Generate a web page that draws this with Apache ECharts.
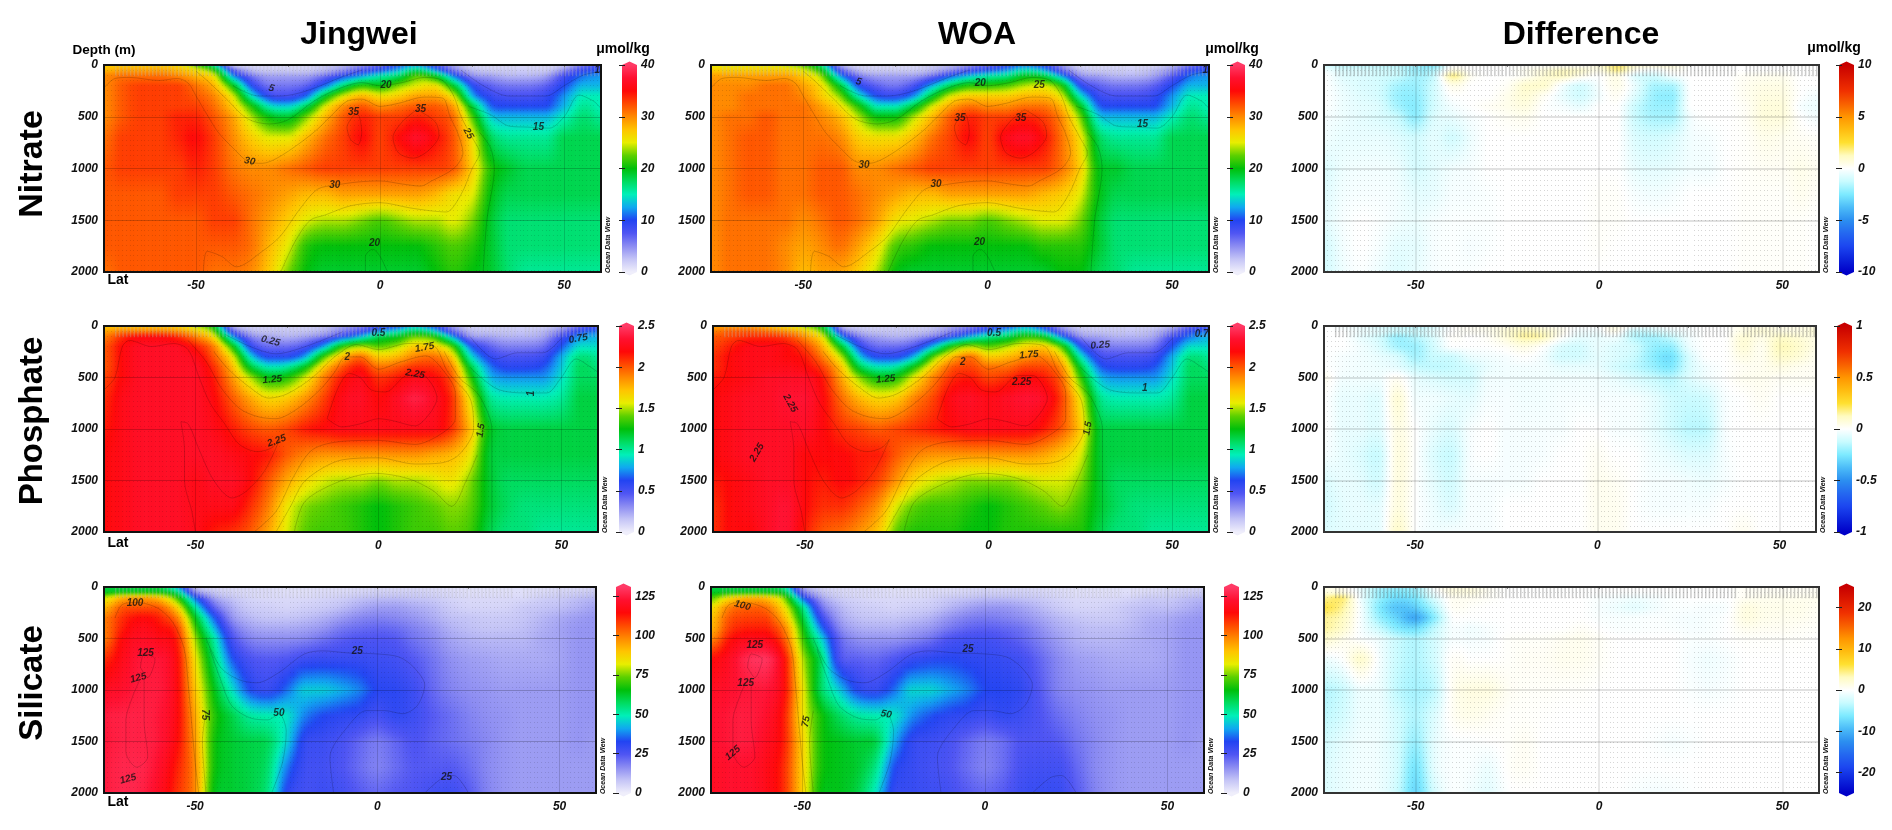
<!DOCTYPE html>
<html><head><meta charset="utf-8"><title>Nutrient sections</title>
<script src="https://cdn.jsdelivr.net/npm/echarts@6/dist/echarts.min.js"></script>
<style>html,body{margin:0;padding:0;background:#fff}#heat,#main{position:absolute;left:0;top:0;width:1892px;height:830px}</style>
</head><body><div id="heat"></div><div id="main"></div>
<script>
const latitudes=[-75,-70,-65,-60,-55,-50,-45,-40,-35,-30,-25,-20,-15,-10,-5,0,5,10,15,20,25,30,35,40,45,50,55,60];
const depths=[0,50,100,200,300,400,500,700,1000,1250,1500,1750,2000];
const nitrateJingwei=[
[27,27,27,27,26,22,15,2,1,1,1,1,2,3,5,7,10,12,8,4,1,1,1,1,1,2,6,8],
[28,29,29,29,28,26,21,8,3,2,2,2,3,5,8,10,13,17,12,6,3,2,2,2,2,5,9,10],
[30,31,31,31,30,28,25,12,6,4,4,4,6,9,12,15,17,22,19,11,5,4,3,3,4,8,11,12],
[30,32,33,33,33,31,28,20,10,6,6,7,11,17,21,20,23,25,26,19,10,7,6,6,7,10,13,13],
[30,32,33,33,33,32,30,25,15,9,8,11,19,25,28,26,27,29,29,25,13,9,8,8,9,12,15,15],
[30,32,33,33,33,33,31,27,21,15,14,18,25,30,32,30,31,32,32,29,19,11,10,10,10,13,16,15],
[30,32,33,33,34,34,32,29,24,20,19,23,28,32,34,33,33,34,33,31,22,14,13,13,13,15,17,16],
[31,33,33,33,34,35,33,30,27,25,25,28,31,33,35,33,35,37,35,32,26,18,16,16,16,18,18,18],
[32,33,33,33,33,34,33,31,30,30,31,32,33,33,33,33,33,33,33,32,27,21,19,18,18,18,18,18],
[32,32,32,32,33,33,33,32,31,30,29,28,28,29,29,29,29,29,28,26,25,20,18,18,18,18,18,18],
[32,32,32,32,32,32,33,33,31,29,27,25,24,24,23,22,23,24,24,25,23,19,17,17,17,17,17,17],
[32,32,32,32,32,32,32,32,31,28,25,21,20,20,20,20,20,20,21,22,21,19,17,17,17,17,17,17],
[31,32,32,32,32,32,31,31,30,27,23,20,19,19,19,19,19,19,20,21,20,19,17,16,16,16,16,16]];
const nitrateWOA=[
[25,25,25,25,24,22,16,4,1,1,1,1,2,3,5,7,9,11,9,5,1,1,1,1,1,3,6,8],
[27,27,27,27,27,25,20,8,3,2,2,2,3,5,8,10,12,15,13,7,3,2,2,2,3,5,9,10],
[29,29,29,29,29,27,23,12,6,4,4,4,6,10,13,15,16,19,18,12,5,4,3,3,4,7,11,12],
[30,30,30,31,31,29,26,19,10,7,6,8,13,18,21,21,22,24,25,21,10,7,6,6,7,10,13,13],
[30,30,31,31,31,30,27,23,15,10,9,12,19,25,27,27,27,28,28,25,15,9,8,8,9,12,15,15],
[30,30,31,31,31,31,29,26,21,15,15,19,25,29,31,30,30,31,31,28,20,11,10,10,10,13,16,15],
[30,31,31,32,31,31,30,28,24,20,20,24,28,32,34,33,33,34,33,30,23,14,13,13,13,15,17,16],
[30,31,32,32,31,31,31,30,27,26,26,28,31,33,35,33,36,37,35,31,26,18,16,16,16,18,18,18],
[30,31,32,32,31,31,32,32,30,30,31,32,33,33,33,33,33,33,33,31,27,20,19,18,18,18,18,18],
[30,31,32,32,31,31,32,32,31,30,29,28,28,29,29,29,29,29,28,27,25,20,18,18,18,18,18,18],
[30,31,31,31,31,30,31,32,31,29,26,25,24,23,23,22,23,24,25,25,23,19,17,17,17,17,17,17],
[30,31,31,31,30,29,30,31,29,26,22,21,20,20,20,20,20,20,21,21,21,19,17,17,17,17,17,17],
[30,31,31,31,30,28,29,29,27,24,20,19,19,19,19,19,19,19,19,20,20,18,17,16,16,16,16,16]];
const nitrateDiff=[
[-1,-1.5,-1.5,-1.5,-1.5,-2,-2.5,0,0,0,0,0,0,0,0,.8,2,1,.8,.8,0,0,0,0,0,0,0,0],
[-.3,-.8,-.8,-1,-1.2,-2,-1.5,.5,0,0,0,.3,.7,1.2,1,.5,1.8,.3,-.2,.2,0,0,0,0,0,0,0,0],
[0,-.7,-.8,-1,-1.2,-1.8,-1.2,1.8,.3,0,0,.2,.8,1.2,.5,0,.5,-.8,-1,-.2,0,0,0,.2,.3,.3,0,0],
[0,-.5,-.8,-1,-1.8,-2,-1,.4,0,0,.2,1,1,-.3,-1,-.2,.4,-.5,-1.8,-1.8,0,0,0,.3,.5,.5,0,0],
[0,-.4,-.7,-1,-2,-2.2,-1,0,0,0,.4,.8,.2,-.5,-1,-.3,.2,-.8,-2,-2.2,0,0,0,.3,.6,.6,0,-.3],
[0,-.4,-.6,-.8,-1.8,-2.3,-1,-.3,0,.2,.4,.6,0,-.2,-.5,0,0,-1.2,-2,-2,0,0,0,.2,.7,.7,-.2,-.4],
[-.2,-.4,-.6,-.8,-1.2,-2.2,-.8,-.5,-.2,0,.2,.3,0,0,0,0,0,-1.2,-1.8,-1.8,-.3,0,0,.2,.7,.7,0,-.3],
[-.3,-.5,-.5,-.5,-.7,-1,-.6,-1,-.4,0,0,0,0,0,0,0,0,-.8,-1,-.8,-.3,-.2,0,.1,.4,.3,.2,.1],
[-.8,-.4,-.3,-.3,-.4,-.9,-.6,-.3,-.2,0,0,0,0,0,0,0,0,-.5,-.6,-.5,-.3,-.3,0,.1,.2,.2,.4,.2],
[-.7,-.3,-.2,-.2,-.3,-.6,-.5,-.2,-.2,-.1,0,0,0,0,0,.1,.1,-.2,-.3,-.2,0,0,0,.1,.1,.1,.3,.1],
[-.6,-.2,0,-.1,-.3,-.4,-.2,-.1,-.1,-.1,0,0,0,0,0,.1,.1,0,0,0,0,0,0,.1,.1,.1,.1,0],
[-1,-.3,0,-.2,-.6,-.6,-.2,-.1,-.2,-.1,0,0,0,0,0,.1,0,0,0,0,0,0,0,.1,.1,.1,.1,0],
[-1,-.4,-.1,-.4,-.7,-.5,-.2,-.1,-.1,0,0,0,0,0,0,0,0,0,0,0,0,0,0,.1,.1,.1,.1,0]];
const phosphateJingwei=[
[1.7,1.7,1.7,1.7,1.65,1.5,1.2,.25,.1,.1,.1,.1,.15,.25,.35,.5,.6,.8,.6,.3,.1,.1,.1,.1,.1,.2,.4,.5],
[1.8,1.9,1.9,1.9,1.85,1.7,1.4,.5,.2,.15,.15,.15,.2,.35,.5,.75,.9,1.1,.9,.45,.2,.15,.15,.15,.2,.35,.6,.7],
[1.9,2.1,2.2,2.2,2.1,1.9,1.6,.8,.35,.25,.2,.25,.35,.55,.8,1.1,1.2,1.4,1.3,.8,.3,.25,.2,.2,.25,.5,.75,.8],
[2,2.2,2.3,2.3,2.3,2.15,1.9,1.3,.6,.4,.4,.5,.8,1.3,1.5,1.4,1.5,1.7,1.7,1.4,.7,.45,.35,.35,.4,.65,.9,.9],
[2,2.2,2.3,2.3,2.3,2.25,2,1.6,.9,.6,.6,.8,1.35,1.75,1.95,1.7,1.75,1.9,1.95,1.7,.95,.6,.5,.5,.55,.8,1.05,1],
[2,2.2,2.3,2.3,2.3,2.3,2.1,1.75,1.2,.95,1,1.25,1.7,2,2.15,1.95,2,2.1,2.1,1.9,1.2,.75,.6,.6,.65,.85,1.1,1.05],
[2.05,2.2,2.3,2.3,2.3,2.3,2.15,1.85,1.5,1.25,1.3,1.55,1.9,2.15,2.25,2.1,2.15,2.25,2.2,2,1.35,.85,.75,.75,.75,.9,1.1,1.1],
[2.1,2.25,2.3,2.3,2.3,2.3,2.2,2,1.8,1.65,1.7,1.85,2.05,2.25,2.3,2.2,2.3,2.4,2.3,2.1,1.6,1.05,.95,.95,.95,1,1.15,1.15],
[2.15,2.25,2.3,2.3,2.3,2.3,2.25,2.15,2.05,2,2.05,2.15,2.2,2.25,2.25,2.25,2.25,2.25,2.25,2.1,1.75,1.25,1.15,1.15,1.15,1.15,1.15,1.15],
[2.2,2.25,2.3,2.3,2.3,2.3,2.3,2.25,2.2,2.15,2,1.9,1.85,1.85,1.85,1.85,1.85,1.85,1.8,1.75,1.6,1.2,1.15,1.15,1.15,1.15,1.15,1.15],
[2.2,2.25,2.3,2.3,2.3,2.25,2.3,2.3,2.2,2,1.8,1.65,1.55,1.5,1.5,1.45,1.5,1.5,1.55,1.6,1.45,1.2,1.1,1.1,1.1,1.1,1.1,1.1],
[2.2,2.25,2.3,2.3,2.3,2.25,2.25,2.25,2.1,1.9,1.6,1.45,1.4,1.35,1.3,1.25,1.3,1.35,1.4,1.45,1.4,1.2,1.1,1.05,1.05,1.05,1.05,1.05],
[2.2,2.25,2.3,2.3,2.3,2.25,2.15,2.1,2,1.8,1.55,1.4,1.35,1.35,1.3,1.25,1.3,1.35,1.35,1.4,1.35,1.15,1.05,1.05,1,1,1,1]];
const phosphateWOA=[
[1.8,1.8,1.8,1.7,1.6,1.45,1.15,.2,.1,.1,.1,.1,.15,.25,.35,.5,.6,.75,.55,.25,.1,.1,.1,.1,.1,.2,.4,.5],
[1.9,2,2,1.95,1.85,1.7,1.35,.45,.2,.15,.15,.15,.2,.35,.5,.7,.85,1,.8,.4,.2,.15,.15,.15,.2,.35,.6,.7],
[2,2.05,2.1,2.1,2.05,1.85,1.55,.75,.35,.25,.2,.25,.35,.55,.8,1,1.1,1.3,1.2,.7,.3,.25,.2,.2,.25,.5,.7,.8],
[2.05,2.15,2.25,2.25,2.2,2.05,1.75,1.2,.6,.4,.4,.5,.85,1.3,1.5,1.4,1.5,1.65,1.7,1.35,.65,.4,.35,.35,.4,.65,.9,.9],
[2.1,2.2,2.25,2.25,2.2,2.15,1.9,1.5,.85,.6,.6,.85,1.4,1.75,1.95,1.7,1.75,1.85,1.9,1.65,.95,.55,.5,.5,.55,.8,1.05,1],
[2.1,2.2,2.25,2.25,2.25,2.2,2.05,1.7,1.15,.95,1,1.3,1.7,2,2.05,1.95,1.95,2.05,2.05,1.85,1.2,.7,.6,.6,.65,.85,1.1,1.05],
[2.15,2.2,2.25,2.3,2.3,2.3,2.15,1.8,1.45,1.25,1.3,1.6,1.9,2.1,2.15,2.05,2.1,2.2,2.15,1.95,1.35,.85,.75,.75,.75,.9,1.1,1.1],
[2.2,2.25,2.3,2.3,2.35,2.35,2.2,1.95,1.75,1.65,1.7,1.9,2.05,2.25,2.3,2.25,2.3,2.35,2.3,2.05,1.6,1.05,.95,.95,.95,1,1.15,1.15],
[2.2,2.25,2.3,2.3,2.3,2.3,2.2,2.1,2.05,2,2.05,2.1,2.15,2.2,2.25,2.25,2.25,2.25,2.15,2,1.7,1.2,1.15,1.15,1.15,1.15,1.15,1.15],
[2.2,2.25,2.3,2.3,2.3,2.2,2.2,2.2,2.15,2.15,2,1.9,1.85,1.85,1.85,1.85,1.85,1.85,1.8,1.7,1.55,1.2,1.15,1.15,1.15,1.15,1.15,1.15],
[2.15,2.2,2.25,2.3,2.3,2.2,2.15,2.2,2.15,2.05,1.85,1.65,1.55,1.5,1.45,1.45,1.45,1.5,1.55,1.55,1.45,1.2,1.1,1.1,1.1,1.1,1.1,1.1],
[2.1,2.2,2.25,2.3,2.35,2.2,2.1,2.1,2,1.85,1.55,1.4,1.35,1.35,1.3,1.25,1.3,1.35,1.4,1.45,1.35,1.2,1.1,1.05,1.05,1.05,1.05,1.05],
[2.1,2.2,2.2,2.3,2.35,2.15,2,1.95,1.85,1.7,1.4,1.3,1.3,1.3,1.25,1.25,1.3,1.3,1.3,1.3,1.3,1.15,1.05,1.05,1,1,1,1]];
const phosphateDiff=[
[0,-.03,-.05,-.1,-.12,-.15,-.1,0,.02,.04,.05,.08,.04,.02,0,0,.05,0,-.03,0,0,0,0,.05,.05,.05,.05,.05],
[0,0,-.03,-.05,-.1,-.1,-.05,0,.02,.03,.08,.13,.1,.04,-.03,-.03,.04,-.12,-.1,-.05,-.02,0,0,.05,.08,.05,.05,.08],
[0,0,-.05,-.1,-.2,-.15,-.08,.01,0,.02,.08,.16,.14,.02,-.05,-.05,-.03,-.15,-.18,-.12,-.03,0,0,.08,.05,.1,.08,.05],
[0,0,-.03,-.08,-.18,-.2,-.1,0,0,0,.02,.05,0,-.08,-.1,-.05,-.08,-.1,-.2,-.22,-.05,0,0,.08,.03,.13,.1,.05],
[0,-.02,-.03,-.05,-.08,-.18,-.12,-.12,-.05,-.03,-.02,0,-.03,-.1,-.1,-.06,-.08,-.12,-.22,-.28,-.1,0,0,.05,.03,.1,.08,.03],
[0,-.02,-.03,-.04,-.06,-.12,-.14,-.13,-.1,-.05,-.03,-.03,-.03,-.05,-.05,-.05,-.1,-.14,-.2,-.25,-.1,-.03,0,.02,.03,.05,.03,.02],
[.03,-.03,-.03,-.03,.02,-.05,-.08,-.1,-.1,-.03,-.03,-.03,-.03,-.03,-.03,-.03,-.05,-.08,-.12,-.15,-.08,-.03,0,.03,.03,.02,.02,.02],
[0,-.05,-.05,-.07,.08,-.03,-.03,-.05,-.06,-.02,-.02,-.03,-.03,-.02,-.02,-.02,-.02,-.02,-.05,-.1,-.12,-.1,-.02,0,.02,0,0,0],
[0,-.05,-.05,-.07,.05,0,-.05,-.08,-.02,0,-.02,-.02,-.02,-.02,0,0,-.02,-.02,-.05,-.1,-.15,-.14,-.02,0,0,0,0,0],
[-.02,-.05,-.08,-.12,.06,0,-.08,-.12,-.02,0,-.02,-.02,-.02,0,0,.02,0,0,-.03,-.05,-.08,-.08,-.02,0,0,0,0,0],
[-.08,-.05,-.06,-.1,.06,0,-.06,-.1,-.02,-.02,-.02,-.02,0,0,0,.03,.02,0,-.02,-.02,-.03,-.04,-.02,0,0,0,0,0],
[-.1,-.06,-.05,-.06,.06,0,-.04,-.08,-.02,-.02,0,0,0,0,0,.03,.03,0,-.02,-.02,-.02,-.02,0,0,0,0,0,0],
[-.08,-.06,-.06,-.06,.1,0,-.03,-.02,-.02,-.02,0,0,0,0,0,.03,.03,0,0,0,0,0,0,.03,0,0,0,0]];
const silicateJingwei=[
[60,60,60,60,42,10,5,4,4,3,3,3,3,3,4,4,4,4,4,3,3,3,3,3,3,4,4,5],
[63,65,65,65,55,18,8,5,4,4,3,3,4,4,5,6,6,6,5,4,3,3,3,3,4,5,6,7],
[80,92,95,90,70,35,14,8,5,4,4,4,5,6,8,9,9,8,7,5,4,4,4,4,6,7,9,10],
[92,105,106,105,88,52,24,12,7,6,5,6,7,9,12,14,14,12,10,7,5,5,5,7,8,9,11,13],
[100,110,115,112,100,65,36,16,10,8,8,9,11,14,17,18,17,15,12,9,8,7,7,8,10,12,14,15],
[100,112,118,115,108,72,44,22,14,12,12,13,15,19,21,22,21,18,15,11,9,8,8,9,11,13,15,15],
[100,115,120,118,112,78,52,27,18,16,16,17,20,23,25,25,24,20,17,13,11,10,10,10,12,13,15,15],
[110,118,124,124,115,85,58,35,26,24,25,28,29,29,29,28,27,24,20,16,14,13,12,12,12,13,15,15],
[120,122,125,125,116,90,66,48,33,29,36,45,45,42,38,32,31,28,22,18,16,15,14,14,14,14,15,15],
[125,126,126,124,116,94,70,60,52,50,48,38,33,31,30,27,30,28,24,21,18,16,15,14,14,14,15,15],
[124,126,126,124,115,96,68,62,60,58,46,30,28,26,22,19,22,25,23,21,19,17,15,14,14,14,15,14],
[125,127,127,122,112,98,68,62,60,56,38,28,27,25,21,18,21,24,24,24,21,17,15,14,14,14,14,14],
[125,127,126,120,110,98,66,62,60,54,32,27,28,27,24,22,24,25,27,28,24,18,15,14,14,14,14,14]];
const silicateWOA=[
[60,60,60,60,52,14,6,4,4,3,3,3,3,3,4,4,4,4,4,3,3,3,3,3,3,4,5,5],
[62,64,64,64,60,22,9,5,4,4,3,3,4,4,5,6,6,6,5,4,3,3,3,3,4,5,6,7],
[72,85,92,90,75,35,14,7,5,4,4,4,5,7,8,9,9,8,7,5,4,4,4,5,7,7,9,10],
[85,100,104,102,85,55,22,11,7,6,5,6,7,10,13,15,15,13,10,7,5,5,6,8,9,9,11,13],
[90,105,108,108,92,62,30,14,9,8,8,9,11,15,18,19,18,16,13,10,8,7,7,9,11,12,14,15],
[92,108,112,112,100,68,38,18,12,11,11,13,15,19,22,23,22,20,16,12,10,9,9,10,12,13,15,15],
[98,113,118,118,105,72,47,23,16,15,15,17,20,25,27,27,25,22,18,14,11,10,10,11,12,13,15,15],
[115,120,128,130,115,80,58,27,23,22,25,29,31,32,31,30,29,27,22,17,14,13,12,12,12,13,15,15],
[120,122,124,124,115,85,58,45,32,29,36,46,46,42,38,33,32,30,24,18,16,15,14,14,14,14,15,15],
[122,124,125,122,112,85,68,58,52,50,48,39,34,31,30,28,30,28,25,21,18,16,15,14,14,14,15,15],
[122,124,125,120,112,88,68,64,62,60,42,30,28,26,22,19,21,25,25,24,20,17,15,14,14,14,15,14],
[120,122,122,118,110,88,68,64,62,54,34,29,27,25,21,18,21,26,27,27,22,17,15,14,14,14,14,14],
[120,122,122,118,110,88,66,64,60,48,30,29,28,27,24,22,24,28,29,29,24,18,15,14,14,14,14,14]];
const silicateDiff=[
[1,1,-1.5,-4,-5,-5,0,1.5,1.5,.5,0,0,0,0,0,0,0,0,0,0,0,0,0,.5,.5,.5,.5,.5],
[1.5,1,-1,-5,-6,-5,-1,1.5,1.5,.5,0,0,0,0,0,0,0,0,0,0,0,0,0,.5,.5,.5,.5,.5],
[4,5,-1,-5,-7,-6,-2,.7,.7,.3,0,0,0,0,0,-.3,-.5,-.8,-.5,-.2,0,0,0,.6,.8,.8,.8,.8],
[6,4,-.5,-6,-9,-8,-4,.5,.2,0,0,0,0,0,0,-.5,-1,-1.5,-.8,-.3,-.3,-.5,-.3,1.5,1,1,1,.5],
[4,3,-.5,-5,-8,-11,-6,-.2,0,0,0,0,0,0,0,-.3,-.4,-.3,-.2,-.4,-.6,-.4,0,1.5,1,.8,.8,.4],
[4,2.5,-.5,-3,-6,-7,-3.5,-.5,-.8,-.4,0,0,0,0,.4,0,-.3,-.3,-.2,-.3,-.5,-.4,0,.8,.6,.6,.4,.2],
[2.5,1,-.2,-1,-3,-4,-2.5,-.5,-.6,-.4,.2,.3,.3,.6,.8,.4,0,0,0,0,-.3,-.3,0,.2,.2,.2,.2,0],
[-1,0,2.5,-.5,-3,-4,-2.5,.4,0,0,.2,.5,.5,.8,.8,.4,0,0,0,0,-.5,-.8,-.5,0,0,0,0,0],
[-4,-3,-1,-1,-3.5,-4.5,-3.5,.6,1.5,1.5,.6,.3,.3,.2,.2,0,0,0,0,0,-.3,-.5,-.3,0,0,0,0,0],
[-3.5,-2.5,-1,-1,-2.5,-4,-2,.5,1,.6,.2,.2,.1,0,0,0,0,0,0,0,0,0,0,0,0,0,0,0],
[-2.5,-1.5,-.8,-1,-2.5,-5,-1.5,-.3,-.2,0,.2,.5,0,0,0,0,0,0,-.2,-.5,-.3,0,0,0,0,0,0,0],
[-2,-1.2,-.8,-1,-2.5,-6.5,-1.5,-.3,-.4,-1,.2,.5,0,0,0,0,0,0,0,0,0,0,0,0,0,0,0,0],
[-2,-1.2,-.8,-1,-3,-7.5,-2.5,-.3,-.8,-1.5,-.2,0,0,0,0,0,0,-.4,-.6,-.5,-.2,0,0,0,0,0,0,0]];

const nitrateContours=[
[[-75,220],[-72,130],[-68,120],[-60,150],[-55,130],[-52,180],[-50,300],[-47,480],[-44,650],[-40,800],[-36,930],[-32,950],[-28,900],[-22,760],[-17,620],[-13,480],[-9,350],[-5,330],[0,400],[5,370],[12,310],[17,320],[19,500],[21,650],[22.5,850],[20,1000],[14,1120],[11,1170],[6,1150],[0,1120],[-6,1130],[-12,1160],[-17,1200],[-22,1400],[-27,1650],[-32,1800],[-39,1950],[-43,1850],[-47,1800],[-48,2000]],
[[-7,480],[-9,600],[-8,720],[-6,770],[-5,650],[-6,480],[-7,480]],
[[10,430],[6,550],[3.5,700],[5,850],[9,900],[13,830],[16,680],[15,550],[10,430]],
[[-27,2000],[-23,1700],[-19,1500],[-15,1450],[-8,1360],[0,1330],[8,1380],[14,1410],[18,1420],[22,1250],[25,1000],[27,850],[25,700],[22,500],[20,300],[17,150],[12,120],[6,170],[0,200],[-5,170],[-12,240],[-18,350],[-25,530],[-30,570],[-36,520],[-42,320],[-47,150],[-50,60]],
[[28,2000],[29,1500],[31,1000],[30,800],[27,650]],
[[24,400],[30,480],[35,590],[40,600],[46,610],[50,500],[54,290],[58,350],[60,420]],
[[-40,200],[-33,300],[-27,300],[-20,250],[-10,110],[-5,50]],
[[22,50],[28,200],[35,300],[45,300],[50,200],[55,100],[60,60]],
[[-4,2000],[-4,1850],[-2,1780],[0,1850],[2,2000]]];
const phosphateContours=[
[[-75,620],[-72,500],[-70,200],[-68,140],[-62,200],[-56,170],[-52,230],[-49,500],[-46,750],[-42,950],[-38,1150],[-33,1220],[-29,1180],[-27,1100],[-31,1400],[-36,1600],[-40,1670],[-45,1500],[-49,1200],[-52,950],[-54,930],[-53,1200],[-53,1500],[-51,1800],[-50,2000]],
[[-14,900],[-11,600],[-8,460],[-5,500],[-2,620],[2,640],[8,480],[12,480],[16,700],[14,850],[10,970],[4,920],[0,900],[-5,950],[-10,980],[-14,900]],
[[-52,140],[-47,350],[-43,600],[-38,800],[-33,880],[-28,900],[-22,800],[-16,620],[-12,450],[-9,300],[-5,300],[0,420],[6,350],[13,290],[17,400],[21,650],[21,900],[17,1050],[10,1150],[0,1110],[-10,1120],[-18,1200],[-23,1450],[-28,1800],[-34,2000]],
[[-45,250],[-41,420],[-35,600],[-30,700],[-25,660],[-18,500],[-12,300],[-6,180],[0,230],[8,170],[15,190],[19,450],[25,700],[26,1000],[22,1250],[17,1330],[10,1340],[0,1280],[-10,1300],[-20,1500],[-24,1750],[-28,2000]],
[[31,2000],[31,1500],[31,1000],[30,850],[27,650],[22,500],[18,250]],
[[-23,2000],[-20,1700],[-10,1500],[-1,1430],[8,1480],[15,1600],[20,1750],[24,1500],[27,1250]],
[[25,400],[28,500],[33,620],[40,650],[46,650],[50,500],[54,320],[58,400],[60,450]],
[[-42,80],[-35,200],[-28,270],[-20,200],[-10,60]],
[[25,100],[32,320],[38,260],[45,260],[50,120]]];
const silicateContours=[
[[-72,300],[-70,170],[-66,150],[-60,210],[-56,350],[-53,600],[-52,900],[-51,1300],[-50,1700],[-49,2000]],
[[-65,780],[-64,650],[-61,700],[-63,880],[-65,780]],
[[-65,890],[-67,1050],[-69,1300],[-69,1600],[-66,1750],[-63,1650],[-64,1300],[-64,900]],
[[-47,1200],[-48,1500],[-47,2000]],
[[-46,600],[-43,900],[-40,1150],[-35,1270],[-30,1290],[-27,1230],[-25,1400],[-26,1700],[-29,2000]],
[[-47,500],[-43,780],[-38,900],[-33,930],[-27,830],[-20,650],[-15,620],[-8,640],[0,650],[6,680],[10,780],[13,950],[11,1150],[7,1230],[2,1200],[-3,1200],[-8,1350],[-13,1650],[-12,2000]],
[[13,2000],[18,1850],[21,1830],[25,2000]]];

const nitrateJingweiLabels=[[-29.5,226,'5',-15],[1.6,194,'20',0],[-7.2,459,'35',0],[11,426,'35',0],[24,662,'25',-60],[43,598,'15',0],[-35.4,930,'30',-10],[-12.3,1163,'30',0],[-1.5,1722,'20',0],[59,55,'1',0]];
const nitrateWOALabels=[[-35,163,'5',-15],[-2,174,'20',0],[14,198,'25',0],[-7.5,511,'35',0],[9,511,'35',0],[42,570,'15',0],[-33.5,965,'30',0],[-14,1151,'30',0],[-2.2,1709,'20',0],[59,55,'1',0]];
const phosphateJingweiLabels=[[-29.5,146,'0.25',-15],[0,71,'0.5',0],[12.6,210,'1.75',10],[-8.5,307,'2',0],[10,466,'2.25',-10],[-29,521,'1.25',5],[41.8,654,'1',90],[54.6,123,'0.75',10],[28,1013,'1.5',80],[-27.8,1116,'2.25',20]];
const phosphateWOALabels=[[1.5,70,'0.5',0],[30.4,187,'0.25',5],[58,80,'0.7',0],[11,280,'1.75',5],[-7,350,'2',0],[9,550,'2.25',0],[-28,515,'1.25',5],[42.5,608,'1',0],[-54,750,'2.25',-60],[-63,1228,'2.25',60],[27,994,'1.5',80]];
const silicateJingweiLabels=[[-66.5,162,'100',0],[-63.6,647,'125',0],[-65.6,883,'125',15],[-47.4,1240,'75',-90],[-27,1230,'50',0],[-5.5,625,'25',0],[19,1845,'25',0],[-68.4,1864,'125',15]];
const silicateWOALabels=[[-66.4,180,'100',-15],[-63,570,'125',0],[-65.5,930,'125',0],[-49,1306,'75',80],[-27,1235,'50',-10],[-4.6,600,'25',0],[-69,1612,'125',40]];

const nitrateTicks=[0,10,20,30,40], phosphateTicks=[0,0.5,1,1.5,2,2.5], silicateTicks=[0,25,50,75,100,125];
const nitrateDiffTicks=[-10,-5,0,5,10], phosphateDiffTicks=[-1,-0.5,0,0.5,1], silicateDiffTicks=[-20,-10,0,10,20];
const latTickLabels=[-50,0,50];

const rainbow=['#efeefb','#c4c4f6','#8c8cf2','#4f55f3','#2244f2','#10a8f0','#00f0b8','#00dc60','#00bf0a','#5cd000','#e8ee00','#ffc400','#ff8a00','#ff4a00','#ff0808','#ff1030','#ff3a66'];
const diverging=['#0000c8','#0c24dc','#1c46f0','#2468f0','#2c8ff0','#4cbcf8','#7deaff','#c8fbff','#ffffff','#fffbc0','#ffe030','#ffbc10','#ff9500','#f86000','#f03000','#dc1800','#c80000'];

const FONT='"Liberation Sans",Arial,sans-serif';
const panels=[
 {d:nitrateJingwei,c:nitrateContours,l:nitrateJingweiLabels,r:[104,601,65,272],bar:622,min:0,max:40,t:nitrateTicks,ramp:rainbow,diff:false},
 {d:nitrateWOA,c:nitrateContours,l:nitrateWOALabels,r:[711,1209,65,272],bar:1230,min:0,max:40,t:nitrateTicks,ramp:rainbow,diff:false},
 {d:nitrateDiff,c:[],l:[],r:[1324,1819,65,272],bar:1839,min:-10,max:10,t:nitrateDiffTicks,ramp:diverging,diff:true},
 {d:phosphateJingwei,c:phosphateContours,l:phosphateJingweiLabels,r:[104,598,326,532],bar:619,min:0,max:2.5,t:phosphateTicks,ramp:rainbow,diff:false},
 {d:phosphateWOA,c:phosphateContours,l:phosphateWOALabels,r:[713,1209,326,532],bar:1230,min:0,max:2.5,t:phosphateTicks,ramp:rainbow,diff:false},
 {d:phosphateDiff,c:[],l:[],r:[1324,1816,326,532],bar:1837,min:-1,max:1,t:phosphateDiffTicks,ramp:diverging,diff:true},
 {d:silicateJingwei,c:silicateContours,l:silicateJingweiLabels,r:[104,596,587,793],bar:616,min:0,max:131,t:silicateTicks,ramp:rainbow,diff:false},
 {d:silicateWOA,c:silicateContours,l:silicateWOALabels,r:[711,1204,587,793],bar:1224,min:0,max:131,t:silicateTicks,ramp:rainbow,diff:false},
 {d:silicateDiff,c:[],l:[],r:[1324,1819,587,793],bar:1839,min:-25,max:25,t:silicateDiffTicks,ramp:diverging,diff:true}
];
function gridOf(p){return {left:p.r[0],width:p.r[1]-p.r[0],top:p.r[2],height:p.r[3]-p.r[2]};}

/* Shading: every latitude column of read values is painted as narrow strips whose
   vertical gradient takes its colours from the value ramp, so the field looks continuous. */
function spline(a,b,c,d,t){return 0.5*(2*b+(c-a)*t+(2*a-5*b+4*c-d)*t*t+(3*b-a-3*c+d)*t*t*t);}
function rowAt(row,i,t){
 const n=row.length-1,g=k=>row[Math.max(0,Math.min(n,k))];
 const lo=Math.min(g(i),g(i+1)),hi=Math.max(g(i),g(i+1));
 return Math.max(lo,Math.min(hi,spline(g(i-1),g(i),g(i+1),g(i+2),t)));
}
function strip(p,api,i,t,lat0,lat1){
 const top=api.coord([lat0,-120]),bot=api.coord([lat1,2120]);
 const Y0=top[1],Y1=bot[1],stops=[];
 const col=p.d.map(r=>rowAt(r,i,t));
 const add=(dep,v)=>{
  const y=api.coord([lat0,dep])[1];
  stops.push({offset:(y-Y0)/(Y1-Y0),color:echarts.color.lerp(Math.max(0,Math.min(1,(v-p.min)/(p.max-p.min))),p.ramp)});
 };
 col.forEach((v,j)=>{
  add(depths[j],v);
  if(j<col.length-1){
   for(let s=1;s<4;s++){add(depths[j]+(depths[j+1]-depths[j])*s/4,v+(col[j+1]-v)*s/4);}
  }
 });
 return {type:'rect',shape:{x:top[0],y:Y0,width:bot[0]-top[0]+0.7,height:Y1-Y0},
  style:{fill:{type:'linear',x:0,y:0,x2:0,y2:1,colorStops:stops}}};
}
const heatDom=document.getElementById('heat');
heatDom.style.filter='blur(1.6px)';
heatDom.style.clipPath='path("'+panels.map(p=>`M${p.r[0]} ${p.r[2]}H${p.r[1]}V${p.r[3]}H${p.r[0]}Z`).join('')+'")';
const heat=echarts.init(heatDom,null,{renderer:'canvas'});
const SUB=10;
heat.setOption({
 animation:false,
 grid:panels.map(gridOf),
 xAxis:panels.map((p,i)=>({gridIndex:i,type:'value',min:-75,max:60,show:false})),
 yAxis:panels.map((p,i)=>({gridIndex:i,type:'value',inverse:true,min:0,max:2000,show:false})),
 series:panels.map((p,k)=>({type:'custom',xAxisIndex:k,yAxisIndex:k,silent:true,encode:{x:0,y:-1},
  data:latitudes.map((lat,i)=>[lat].concat(p.d.map(r=>r[i]))),
  renderItem(params,api){
   const i=params.dataIndex,lat=api.value(0),children=[];
   if(i===0)children.push(strip(p,api,0,0,lat-6,lat));
   if(i===latitudes.length-1){children.push(strip(p,api,i,0,lat,lat+6));}
   else{
    const step=latitudes[i+1]-lat;
    for(let s=0;s<SUB;s++)children.push(strip(p,api,i,(s+0.5)/SUB,lat+step*s/SUB,lat+step*(s+1)/SUB));
   }
   return {type:'group',children};
  }}))
});

/* axes, contours, labels, colour bars */
const grids=[],xAxes=[],yAxes=[],series=[],graphics=[];
panels.forEach((p,k)=>{
 const g=grids.length;
 grids.push(Object.assign(gridOf(p),{show:true,borderColor:p.diff?'#333':'#111',borderWidth:2,backgroundColor:'transparent',z:5}));
 xAxes.push({gridIndex:g,type:'value',min:-75,max:60,interval:25,
  axisLine:{show:false},axisTick:{show:true,length:2,lineStyle:{color:'#888'}},splitLine:{show:false},
  minorTick:{show:false,splitNumber:25},
  minorSplitLine:{show:true,lineStyle:{color:p.diff?'rgba(0,0,0,0.16)':'rgba(0,0,0,0.12)',width:1,type:[1,4]}},
  axisLabel:{margin:8,fontFamily:FONT,fontStyle:'italic',fontWeight:'bold',fontSize:12,color:'#111',
   showMinLabel:true,showMaxLabel:false,formatter:v=>latTickLabels.includes(v)?String(v):''}});
 const yIdx=yAxes.length;
 yAxes.push({gridIndex:g,type:'value',inverse:true,min:0,max:2000,interval:500,
  axisLine:{show:false},axisTick:{show:false},
  splitLine:{show:true,lineStyle:{color:p.diff?'rgba(0,0,0,0.16)':'rgba(0,0,0,0.2)',width:p.diff?1.5:1}},
  axisLabel:{margin:6,fontFamily:FONT,fontStyle:'italic',fontWeight:'bold',fontSize:12,color:'#111',formatter:v=>String(v)}});
 const base={xAxisIndex:g,yAxisIndex:yIdx,silent:true,animation:false};
 const hatchColor=p.diff?'rgba(90,90,90,0.32)':'rgba(190,190,190,0.3)';
 [[[-72,55],[37.5,55]],[[40,55],[60,55]]].forEach(seg=>series.push(Object.assign({},base,{type:'line',data:seg,symbol:'none',
   lineStyle:{color:hatchColor,width:11,type:[1.5,2.2],cap:'butt'}})));
 p.c.forEach(c=>series.push(Object.assign({},base,{type:'line',data:c,symbol:'none',smooth:0.3,
   lineStyle:{color:'rgba(0,0,0,0.22)',width:0.8}})));
 series.push(Object.assign({},base,{type:'scatter',symbolSize:0,z:6,
   data:p.l.map(o=>({value:[o[0],o[1],o[2]],label:{rotate:o[3]}})),
   label:{show:true,position:'inside',formatter:q=>q.value[2],fontFamily:FONT,fontStyle:'italic',fontWeight:'bold',fontSize:10,color:'#111'},
   markLine:{silent:true,symbol:'none',label:{show:false},animation:false,
     lineStyle:{type:'solid',color:p.diff?'rgba(0,0,0,0.12)':'rgba(0,0,0,0.16)',width:p.diff?1.5:1},
     data:latTickLabels.map(v=>({xAxis:v}))}}));
 const cg=grids.length;
 grids.push({left:p.bar,width:15,top:p.r[2],height:p.r[3]-p.r[2]});
 xAxes.push({gridIndex:cg,type:'value',min:0,max:1,show:false});
 const cy=yAxes.length;
 const tick={show:true,inside:true,length:3,lineStyle:{color:'#222',width:1}};
 yAxes.push({gridIndex:cg,type:'value',position:'right',min:p.min,max:p.max,z:6,
  axisLine:{show:false},splitLine:{show:false},axisTick:Object.assign({customValues:p.t},tick),
  axisLabel:{customValues:p.t,margin:4,fontFamily:FONT,fontStyle:'italic',fontWeight:'bold',fontSize:12,color:'#111',formatter:v=>String(v)}});
 yAxes.push({gridIndex:cg,type:'value',position:'left',min:p.min,max:p.max,z:6,
  axisLine:{show:false},splitLine:{show:false},axisTick:Object.assign({customValues:p.t},tick),axisLabel:{show:false}});
 const stops=p.ramp.map((c,i)=>({offset:i/(p.ramp.length-1),color:c}));
 series.push({type:'custom',xAxisIndex:cg,yAxisIndex:cy,silent:true,data:[[0,p.min,p.max]],encode:{x:0,y:[1,2]},z:2,
  renderItem(params,api){
   const cs=params.coordSys,t=api.coord([0,api.value(2)])[1],b=api.coord([0,api.value(1)])[1];
   const x=cs.x,w=cs.width;
   return {type:'group',children:[
    {type:'rect',shape:{x,y:t,width:w,height:b-t},style:{fill:{type:'linear',x:0,y:1,x2:0,y2:0,colorStops:stops}}},
    {type:'polygon',shape:{points:[[x,t],[x+w/2,t-3.5],[x+w,t]]},style:{fill:p.ramp[p.ramp.length-1]}},
    {type:'polygon',shape:{points:[[x,b],[x+w/2,b+3.5],[x+w,b]]},style:{fill:p.ramp[0]}}
   ]};
  }});
 graphics.push({type:'text',x:p.r[1]+7,y:p.r[3]-27,rotation:Math.PI/2,z:10,
  style:{text:'Ocean Data View',align:'center',verticalAlign:'middle',fill:'#111',font:'italic bold 7px '+FONT}});
});
function txt(text,x,y,size,rot){
 graphics.push({type:'text',x,y,rotation:rot||0,z:10,style:{text,align:'center',verticalAlign:'middle',fill:'#000',font:'bold '+size+'px '+FONT}});
}
txt('Jingwei',359,35,32);txt('WOA',977,35,32);txt('Difference',1581,35,32);
txt('Nitrate',33,164,34,Math.PI/2);txt('Phosphate',33,421,33,Math.PI/2);txt('Silicate',33,683,33,Math.PI/2);
txt('Depth (m)',104,50,13.5);
txt('Lat',118,280,14);txt('Lat',118,543,14);txt('Lat',118,802,14);
txt('μmol/kg',623,49,14);txt('μmol/kg',1232,49,14);txt('μmol/kg',1834,48,14);

const main=echarts.init(document.getElementById('main'),null,{renderer:'canvas'});
main.setOption({animation:false,backgroundColor:'transparent',grid:grids,xAxis:xAxes,yAxis:yAxes,series,graphic:{elements:graphics}});
</script></body></html>
